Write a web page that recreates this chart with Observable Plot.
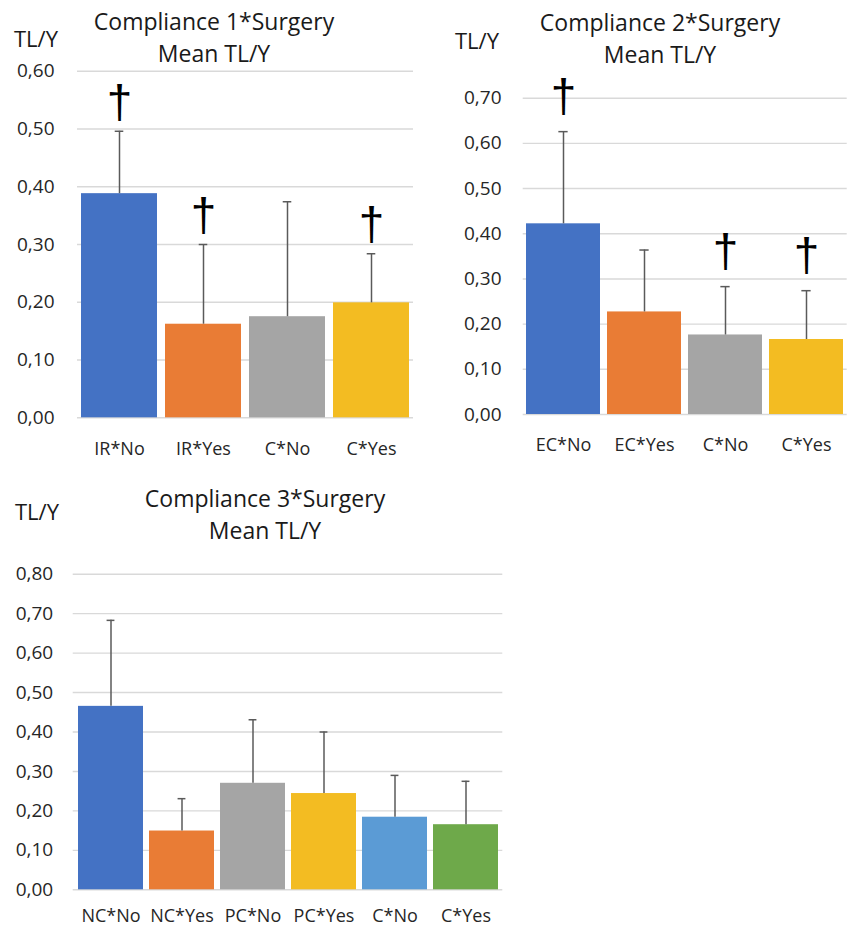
<!DOCTYPE html>
<html>
<head>
<meta charset="utf-8">
<script src="https://cdn.jsdelivr.net/npm/d3@7"></script>
<script src="https://cdn.jsdelivr.net/npm/@observablehq/plot@0.6"></script>
<style>
  html, body { margin: 0; padding: 0; background: #fff; }
  body { width: 847px; height: 927px; position: relative; overflow: hidden; font-family: "Open Sans", sans-serif; }
  .panel { position: absolute; }
  .title { position: absolute; transform: translateX(-50%); text-align: center; font-size: 23px; line-height: 32px; color: #1a1a1a; white-space: nowrap; }
  .ylab { position: absolute; font-size: 22px; line-height: 32px; color: #1a1a1a; white-space: nowrap; }
</style>
</head>
<body>
<div id="p1" class="panel" style="left:0px;top:0px"></div>
<div id="p2" class="panel" style="left:420px;top:0px"></div>
<div id="p3" class="panel" style="left:0px;top:460px"></div>

<div class="title" style="left:214px;top:5px">Compliance 1*Surgery<br>Mean TL/Y</div>
<div class="ylab" style="left:14px;top:22.2px">TL/Y</div>
<div class="title" style="left:660px;top:5.8px">Compliance 2*Surgery<br>Mean TL/Y</div>
<div class="ylab" style="left:455px;top:23.8px">TL/Y</div>
<div class="title" style="left:265px;top:481.8px">Compliance 3*Surgery<br>Mean TL/Y</div>
<div class="ylab" style="left:15px;top:494.8px">TL/Y</div>

<script>
// ---- Data ----
const cats1 = ["IR*No", "IR*Yes", "C*No", "C*Yes"];
const mean1 = [0.388, 0.162, 0.175, 0.199];
const err1  = [0.496, 0.300, 0.374, 0.284];
const dagger1 = [true, true, false, true];
const ticks1 = [0, 0.1, 0.2, 0.3, 0.4, 0.5, 0.6];

const cats2 = ["EC*No", "EC*Yes", "C*No", "C*Yes"];
const mean2 = [0.422, 0.227, 0.176, 0.166];
const err2  = [0.626, 0.364, 0.283, 0.274];
const dagger2 = [true, false, true, true];
const ticks2 = [0, 0.1, 0.2, 0.3, 0.4, 0.5, 0.6, 0.7];

const cats3 = ["NC*No", "NC*Yes", "PC*No", "PC*Yes", "C*No", "C*Yes"];
const mean3 = [0.465, 0.149, 0.270, 0.244, 0.184, 0.165];
const err3  = [0.683, 0.231, 0.431, 0.400, 0.290, 0.275];
const dagger3 = [false, false, false, false, false, false];
const ticks3 = [0, 0.1, 0.2, 0.3, 0.4, 0.5, 0.6, 0.7, 0.8];

const palette = ["#4472C4", "#E97C35", "#A5A5A5", "#F3BC22", "#5B9BD5", "#6EA94A"];

const fmt = d => d.toFixed(2).replace(".", ",");

function panel(cats, means, errs, daggers, ticks, o) {
  const data = cats.map((c, i) => ({cat: c, mean: means[i], err: errs[i], dagger: daggers[i]}));
  const pad = 0.09;
  const step = (o.width - o.mL - o.mR) / cats.length;
  const bw = step * (1 - pad);
  const inset = (bw - o.cap) / 2;
  const sans = "'Open Sans', sans-serif";
  return Plot.plot({
    width: o.width, height: o.height,
    marginLeft: o.mL, marginRight: o.mR, marginTop: o.mT, marginBottom: o.mB,
    style: {fontFamily: sans, fontSize: "19px", color: "#262626", background: "transparent", overflow: "visible"},
    x: {domain: cats, paddingInner: pad, paddingOuter: pad / 2, label: null},
    y: {domain: [0, ticks[ticks.length - 1]], label: null},
    color: {domain: cats, range: palette.slice(0, cats.length)},
    marks: [
      Plot.gridY(ticks, {stroke: "#D9D9D9", strokeOpacity: 1, strokeWidth: 1.4}),
      Plot.axisY(ticks, {tickFormat: fmt, tickSize: 0, tickPadding: o.yPad, fontSize: 19, label: null}),
      Plot.axisX({tickSize: 0, tickPadding: o.xPad, fontSize: 18, label: null}),
      Plot.barY(data, {x: "cat", y: "mean", fill: "cat"}),
      Plot.ruleX(data, {x: "cat", y1: "mean", y2: "err", stroke: "#5a5a5a", strokeWidth: 1.5}),
      Plot.tickY(data, {x: "cat", y: "err", stroke: "#5a5a5a", strokeWidth: 1.5, insetLeft: inset, insetRight: inset}),
      Plot.text(data.filter(d => d.dagger), {x: "cat", y: "err", text: () => "†", dy: o.dDy, fontSize: 46, fill: "#000", fontFamily: "'Liberation Sans', sans-serif", lineAnchor: "middle"})
    ]
  });
}

document.getElementById("p1").append(panel(cats1, mean1, err1, dagger1, ticks1,
  {width: 420, height: 460, mL: 77, mR: 7, mT: 70.7, mB: 42.7, cap: 9, xPad: 24, yPad: 23, dDy: -28}));
document.getElementById("p2").append(panel(cats2, mean2, err2, dagger2, ticks2,
  {width: 427, height: 460, mL: 102.7, mR: 0.3, mT: 97.7, mB: 46, cap: 9, xPad: 23.5, yPad: 21.7, dDy: -34.5}));
document.getElementById("p3").append(panel(cats3, mean3, err3, dagger3, ticks3,
  {width: 560, height: 467, mL: 72.7, mR: 57.7, mT: 113.7, mB: 37.7, cap: 8, xPad: 19, yPad: 20, dDy: -30}));
</script>
</body>
</html>
